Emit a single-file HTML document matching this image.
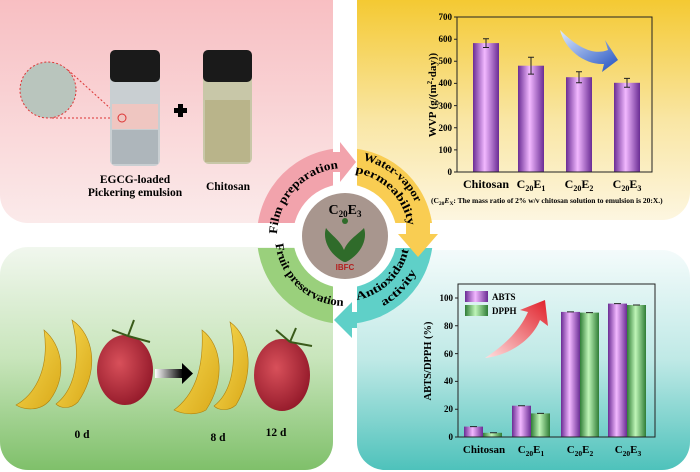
<!DOCTYPE html>
<html><head><meta charset="utf-8"><style>
html,body{margin:0;padding:0;background:#fff;}
svg{display:block;font-family:"Liberation Serif",serif;font-weight:bold;}
</style></head><body>
<svg width="700" height="472" viewBox="0 0 700 472" xmlns="http://www.w3.org/2000/svg">
<defs>
<linearGradient id="pk" x1="0" y1="0" x2="0" y2="1"><stop offset="0" stop-color="#f7b9bd"/><stop offset="1" stop-color="#fbeaea"/></linearGradient>
<linearGradient id="yl" x1="0" y1="0" x2="0" y2="1"><stop offset="0" stop-color="#f3c216"/><stop offset="0.6" stop-color="#f9e6a4"/><stop offset="1" stop-color="#fdf6e0"/></linearGradient>
<linearGradient id="gr" x1="0" y1="0" x2="0" y2="1"><stop offset="0" stop-color="#f1f7ee"/><stop offset="0.5" stop-color="#c8e5bb"/><stop offset="1" stop-color="#7fc06a"/></linearGradient>
<linearGradient id="cy" x1="0" y1="0" x2="0" y2="1"><stop offset="0" stop-color="#f4fbfb"/><stop offset="0.5" stop-color="#bfe9e6"/><stop offset="1" stop-color="#4ec2bb"/></linearGradient>
<linearGradient id="pu" x1="0" y1="0" x2="1" y2="0"><stop offset="0" stop-color="#6a2c94"/><stop offset="0.45" stop-color="#f2b8ff"/><stop offset="1" stop-color="#6a2c94"/></linearGradient>
<linearGradient id="gn" x1="0" y1="0" x2="1" y2="0"><stop offset="0" stop-color="#2f7d36"/><stop offset="0.45" stop-color="#bff5b8"/><stop offset="1" stop-color="#2f7d36"/></linearGradient>
<linearGradient id="ba" x1="0" y1="0" x2="1" y2="1"><stop offset="0" stop-color="#f8dc55"/><stop offset="1" stop-color="#d9a818"/></linearGradient>
<radialGradient id="to" cx="0.4" cy="0.4" r="0.7"><stop offset="0" stop-color="#d8505a"/><stop offset="1" stop-color="#8e1526"/></radialGradient>
<linearGradient id="blA" x1="0" y1="0" x2="1" y2="1"><stop offset="0" stop-color="#e0ecff"/><stop offset="1" stop-color="#1f4fc0"/></linearGradient>
<linearGradient id="rdA" x1="0" y1="1" x2="1" y2="0"><stop offset="0" stop-color="#ffe0e0"/><stop offset="1" stop-color="#e0202a"/></linearGradient>
<linearGradient id="blk" x1="0" y1="0" x2="1" y2="0"><stop offset="0" stop-color="#fff"/><stop offset="1" stop-color="#000"/></linearGradient>
<clipPath id="q1"><rect x="0" y="0" width="333" height="223"/></clipPath>
<clipPath id="q2"><rect x="357" y="0" width="343" height="223"/></clipPath>
<clipPath id="q3"><rect x="0" y="248" width="333" height="224"/></clipPath>
<clipPath id="q4"><rect x="357" y="248" width="343" height="224"/></clipPath>
</defs>

<rect x="0" y="-30" width="333" height="253" rx="28" fill="url(#pk)"/>
<rect x="357" y="-30" width="333" height="250" rx="28" fill="url(#yl)"/>
<rect x="0" y="247" width="333" height="223" rx="28" fill="url(#gr)"/>
<rect x="357" y="250" width="333" height="220" rx="28" fill="url(#cy)"/>

<circle cx="48" cy="90" r="28" fill="#b9c5bd" stroke="#d33" stroke-width="1" stroke-dasharray="2,2"/>
<line x1="68" y1="70" x2="120" y2="117" stroke="#d33" stroke-dasharray="2,2"/>
<line x1="52" y1="118" x2="120" y2="118" stroke="#d33" stroke-dasharray="2,2"/>
<rect x="110" y="50" width="50" height="116" rx="6" fill="#c9cfd2"/>
<rect x="110" y="50" width="50" height="32" rx="5" fill="#1a1a1a"/>
<rect x="112" y="104" width="46" height="25" fill="#efc6c1"/>
<circle cx="122" cy="118" r="4" fill="none" stroke="#d33"/>
<rect x="112" y="130" width="46" height="34" fill="#aeb6bb"/>
<rect x="174" y="108" width="13" height="5" fill="#000"/><rect x="178" y="104" width="5" height="13" fill="#000"/>
<rect x="203" y="50" width="49" height="114" rx="6" fill="#c8c7a8"/>
<rect x="203" y="50" width="49" height="32" rx="5" fill="#1a1a1a"/>
<rect x="205" y="100" width="45" height="62" fill="#b9b48a"/>
<text x="135" y="183" font-size="11.5" text-anchor="middle">EGCG-loaded</text>
<text x="135" y="196" font-size="11.5" text-anchor="middle">Pickering emulsion</text>
<text x="228" y="190" font-size="11.5" text-anchor="middle">Chitosan</text>

<g fill="url(#ba)" stroke="#b0820e" stroke-width="0.6">
<path d="M44 330 C62 345 68 375 50 400 C40 412 24 410 16 405 C34 395 50 370 44 330 Z"/>
<path d="M72 320 C94 335 100 370 78 402 C70 410 60 408 56 404 C74 390 82 360 72 320 Z"/>
<path d="M202 330 C222 345 226 380 206 410 C196 416 182 414 174 410 C194 395 204 370 202 330 Z"/>
<path d="M230 322 C252 338 254 375 236 405 C228 412 218 410 214 406 C232 392 238 362 230 322 Z"/>
</g>
<ellipse cx="125" cy="370" rx="28" ry="35" fill="url(#to)"/>
<path d="M128 336 L134 320 M128 336 L150 342 M128 336 L112 330" stroke="#3a5a1a" stroke-width="2" fill="none"/>
<ellipse cx="282" cy="375" rx="28" ry="36" fill="url(#to)"/>
<path d="M290 342 L296 328 M290 342 L312 346 M290 342 L276 330" stroke="#3a5a1a" stroke-width="2" fill="none"/>
<rect x="155" y="369" width="28" height="9" fill="url(#blk)"/>
<polygon points="182,363 193,373.5 182,384" fill="#000"/>
<text x="82" y="438" font-size="11.5" text-anchor="middle">0 d</text>
<text x="218" y="441" font-size="11.5" text-anchor="middle">8 d</text>
<text x="276" y="436" font-size="11.5" text-anchor="middle">12 d</text>

<g>
<circle cx="345" cy="236" r="88" fill="#f2a3ac" clip-path="url(#q1)"/>
<circle cx="345" cy="236" r="88" fill="#f9cd52" clip-path="url(#q2)"/>
<circle cx="345" cy="236" r="88" fill="#9ad07c" clip-path="url(#q3)"/>
<circle cx="345" cy="236" r="88" fill="#5fd0c8" clip-path="url(#q4)"/>
<circle cx="345" cy="236" r="52" fill="#fff"/>
<polygon points="333,152 340,152 340,142 356,162 340,182 340,172 333,172" fill="#f2a3ac"/>
<polygon points="406,223 430,223 430,234 438,234 418,257 398,234 406,234" fill="#f9cd52"/>
<polygon points="357,304 357,312 352,312 352,302 334,320 352,338 352,328 357,328 357,336" fill="#5fd0c8"/>
<circle cx="345" cy="236" r="43" fill="#a8968e"/>
<text x="345" y="214" font-size="14" text-anchor="middle">C<tspan font-size="9" dy="3">20</tspan><tspan dy="-3">E</tspan><tspan font-size="9" dy="3">3</tspan></text>
<path d="M344 262 C330 255 322 240 326 228 C332 236 340 240 344 250 C348 240 356 236 364 228 C368 240 360 255 346 262 Z" fill="#2f6b2a"/>
<circle cx="345" cy="221" r="3" fill="#2f6b2a"/>
<text x="345" y="270" font-size="8" fill="#b32020" text-anchor="middle" font-family="Liberation Sans">IBFC</text>
<path id="a1" d="M277 236 A68 68 0 0 1 345 168" fill="none"/>
<text font-size="12"><textPath href="#a1" startOffset="2" textLength="98" lengthAdjust="spacingAndGlyphs">Film preparation</textPath></text>
<path id="a2" d="M345 158 A78 78 0 0 1 423 236" fill="none"/>
<text font-size="11.5"><textPath href="#a2" startOffset="18" textLength="70" lengthAdjust="spacingAndGlyphs">Water-vapor</textPath></text>
<path id="a2b" d="M345 172 A64 64 0 0 1 409 236" fill="none"/>
<text font-size="11.5"><textPath href="#a2b" startOffset="10" textLength="80" lengthAdjust="spacingAndGlyphs">permeability</textPath></text>
<path id="a3" d="M345 301 A65 65 0 0 0 410 236" fill="none"/>
<text font-size="11.5"><textPath href="#a3" startOffset="12" textLength="76" lengthAdjust="spacingAndGlyphs">Antioxidant</textPath></text>
<path id="a3b" d="M345 316 A80 80 0 0 0 425 236" fill="none"/>
<text font-size="11.5"><textPath href="#a3b" startOffset="40" textLength="48" lengthAdjust="spacingAndGlyphs">activity</textPath></text>
<path id="a4" d="M275 236 A70 70 0 0 0 345 306" fill="none"/>
<text font-size="12"><textPath href="#a4" startOffset="8" textLength="100" lengthAdjust="spacingAndGlyphs">Fruit preservation</textPath></text>
</g>

<g font-size="9">
<path d="M560 30 C580 50 595 55 608 50 L605 40 L618 60 L602 72 L604 64 C585 65 565 50 560 30 Z" fill="url(#blA)"/>
<g fill="url(#pu)">
<rect x="473" y="43.1" width="26" height="128.9"/>
<rect x="518" y="65.7" width="26" height="106.3"/>
<rect x="566" y="77.2" width="26" height="94.8"/>
<rect x="614" y="82.8" width="26" height="89.2"/>
</g>
<g stroke="#222" stroke-width="1" fill="none">
<path d="M486 38.7v8.8M483 38.7h6M483 47.5h6"/>
<path d="M531 57.3v16.8M528 57.3h6M528 74.1h6"/>
<path d="M579 71.7v11M576 71.7h6M576 82.7h6"/>
<path d="M627 78.4v8.8M624 78.4h6M624 87.2h6"/>
<rect x="457" y="17" width="195" height="155" stroke-width="1"/>
<path d="M457 172h-3M457 149.9h-3M457 127.7h-3M457 105.6h-3M457 83.4h-3M457 61.3h-3M457 39.2h-3M457 17h-3"/>
</g>
<g text-anchor="end">
<text x="452" y="175">0</text><text x="452" y="153">100</text><text x="452" y="131">200</text><text x="452" y="109">300</text><text x="452" y="86">400</text><text x="452" y="64">500</text><text x="452" y="42">600</text><text x="452" y="20">700</text>
</g>
<text transform="translate(436 95) rotate(-90)" font-size="11" text-anchor="middle">WVP (g/(m<tspan font-size="7" dy="-4">2</tspan><tspan dy="4">·day))</tspan></text>
<g font-size="12" text-anchor="middle">
<text x="486" y="188">Chitosan</text>
<text x="531" y="188">C<tspan font-size="8" dy="3">20</tspan><tspan dy="-3">E</tspan><tspan font-size="8" dy="3">1</tspan></text>
<text x="579" y="188">C<tspan font-size="8" dy="3">20</tspan><tspan dy="-3">E</tspan><tspan font-size="8" dy="3">2</tspan></text>
<text x="627" y="188">C<tspan font-size="8" dy="3">20</tspan><tspan dy="-3">E</tspan><tspan font-size="8" dy="3">3</tspan></text>
</g>
<text x="431" y="203" font-size="7.5">(C<tspan font-size="5.5" dy="2">20</tspan><tspan dy="-2" font-style="italic">E</tspan><tspan font-size="5.5" dy="2">X</tspan><tspan dy="-2">: The mass ratio of 2% w/v chitosan solution to emulsion is 20:X.)</tspan></text>
</g>

<g font-size="9">
<path d="M485 358 C505 345 520 330 528 312 L520 310 L545 300 L548 326 L540 320 C532 340 510 355 485 358 Z" fill="url(#rdA)"/>
<g fill="url(#pu)">
<rect x="464" y="426.6" width="19" height="10.4"/>
<rect x="512" y="405.7" width="19" height="31.3"/>
<rect x="561" y="311.9" width="19" height="125.1"/>
<rect x="608" y="303.6" width="19" height="133.4"/>
<rect x="465" y="291" width="23" height="11"/>
</g>
<g fill="url(#gn)">
<rect x="483" y="432.8" width="19" height="4.2"/>
<rect x="531" y="413.4" width="19" height="23.6"/>
<rect x="580" y="312.6" width="19" height="124.4"/>
<rect x="627" y="305" width="19" height="132"/>
<rect x="465" y="305" width="23" height="11"/>
</g>
<g stroke="#222" fill="none">
<path d="M470 426.6h7M490 432.8h7M518 405.7h7M537 413.4h7M567 311.9h7M586 312.6h7M614 303.6h7M633 305h7"/>
<rect x="458" y="284" width="197" height="153"/>
<path d="M458 437h-3M458 409.2h-3M458 381.4h-3M458 353.6h-3M458 325.8h-3M458 298h-3"/>
</g>
<text x="492" y="300" font-size="9">ABTS</text>
<text x="492" y="314" font-size="9">DPPH</text>
<g text-anchor="end">
<text x="453" y="440">0</text><text x="453" y="412">20</text><text x="453" y="384">40</text><text x="453" y="357">60</text><text x="453" y="329">80</text><text x="453" y="301">100</text>
</g>
<text transform="translate(431 361) rotate(-90)" font-size="10.5" text-anchor="middle">ABTS/DPPH (%)</text>
<g font-size="11" text-anchor="middle">
<text x="484" y="453">Chitosan</text>
<text x="531" y="453">C<tspan font-size="7.5" dy="3">20</tspan><tspan dy="-3">E</tspan><tspan font-size="7.5" dy="3">1</tspan></text>
<text x="580" y="453">C<tspan font-size="7.5" dy="3">20</tspan><tspan dy="-3">E</tspan><tspan font-size="7.5" dy="3">2</tspan></text>
<text x="628" y="453">C<tspan font-size="7.5" dy="3">20</tspan><tspan dy="-3">E</tspan><tspan font-size="7.5" dy="3">3</tspan></text>
</g>
</g>
</svg>
</body></html>
